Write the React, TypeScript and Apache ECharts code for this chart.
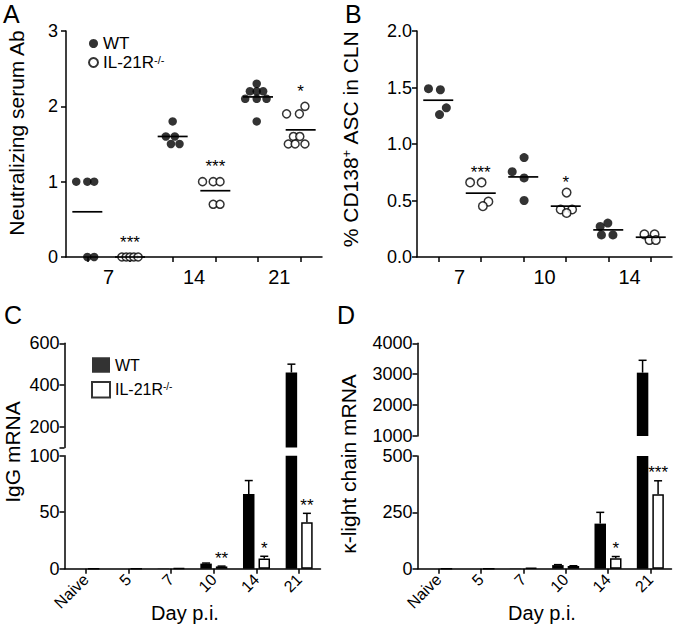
import React, { useEffect, useRef } from 'react';
import * as echarts from 'echarts';

const FONT = '"Liberation Sans", Arial, Helvetica, sans-serif';

// ---------- Panel A: neutralizing serum Ab ----------
const daysA = ['7', '14', '21'];
const wtA = [[1, 1, 1, 0, 0], [1.8, 1.6, 1.6, 1.5, 1.5], [2.3, 2.2, 2.2, 2.2, 2.1, 2.1, 2.1, 1.8]];
const koA = [[0, 0, 0, 0, 0], [1, 1, 1, 0.7, 0.7], [2.0, 1.9, 1.9, 1.6, 1.6, 1.5, 1.5, 1.5]];
const jitterWtA = [[-0.26, 0, 0.16, 0, 0.16], [0, -0.16, 0.05, -0.04, 0.16], [-0.03, -0.19, -0.03, 0.12, -0.3, -0.03, 0.2, -0.03]];
const jitterKoA = [[-0.19, -0.09, 0, 0.09, 0.19], [-0.3, -0.05, 0.11, -0.05, 0.11], [0.1, -0.33, -0.03, -0.17, -0.02, -0.29, -0.13, 0.1]];
const starsA = ['***', '***', '*'];

// ---------- Panel B: % CD138+ ASC in CLN ----------
const daysB = ['7', '10', '14'];
const wtB = [[1.49, 1.48, 1.32, 1.26], [0.88, 0.755, 0.7, 0.5], [0.3, 0.27, 0.195, 0.195]];
const koB = [[0.66, 0.66, 0.49, 0.45], [0.57, 0.42, 0.42, 0.39], [0.2, 0.2, 0.15, 0.15]];
const jitterWtB = [[-0.23, 0.05, 0.19, 0.03], [0.02, -0.26, 0.02, 0.02], [-0.01, -0.19, -0.16, 0.11]];
const jitterKoB = [[-0.25, 0.02, 0.18, 0.05], [0.02, -0.12, 0.15, 0.02], [-0.15, 0.09, -0.03, 0.12]];
const starsB = ['***', '*', ''];

// ---------- Panels C & D: mRNA bars ----------
const daysCD = ['Naive', '5', '7', '10', '14', '21'];
const wtC = [0, 0, 0.2, 4.5, 66, 460];
const wtCErr = [0, 0, 0, 0.5, 12, 40];
const koC = [0, 0, 0.5, 2, 9, 41];
const koCErr = [0, 0, 0, 0.3, 2, 8];
const starsC = ['', '', '', '**', '*', '**'];

const wtD = [0, 0, 1, 16, 200, 3050];
const wtDErr = [0, 0, 0, 2, 50, 400];
const koD = [0, 0, 3, 12, 46, 330];
const koDErr = [0, 0, 0, 1, 8, 60];
const starsD = ['', '', '', '', '*', '***'];

const WT = 'WT';
const KO = 'IL-21R-/-';

const BAR_W = 11.5;
const BAR_OFF = 7.75;

const mean = (a: number[]) => a.reduce((s, v) => s + v, 0) / a.length;

const scatterData = (groups: number[][], jit: number[][], slot: number) =>
  groups.flatMap((g, d) => g.map((v, k) => [2 * d + slot + 0.5 + jit[d][k], v]));
const meanData = (wt: number[][], ko: number[][]) =>
  wt.flatMap((g, d) => [[2 * d + 0.5, mean(g)], [2 * d + 1.5, mean(ko[d])]]);
const starData = (ko: number[][]) => ko.map((g, d) => [2 * d + 1.5, Math.max(...g), d]);

// style for custom-series text (zrender 5 props only)
const customText = (text: string, size: number) => ({
  text,
  fill: '#000',
  fontSize: size,
  fontFamily: FONT,
  align: 'center',
  verticalAlign: 'middle',
});

// style for graphic-component text
const graphicText = (text: string, size: number, extra: any = {}) => ({
  text,
  fill: '#000',
  fontSize: size,
  fontFamily: FONT,
  textAlign: 'center',
  textVerticalAlign: 'middle',
  ...extra,
});

const meanRender = (params: any, api: any) => {
  const p = api.coord([api.value(0), api.value(1)]);
  return {
    type: 'line',
    shape: { x1: p[0] - 15, y1: p[1], x2: p[0] + 15, y2: p[1] },
    style: { stroke: '#000', lineWidth: 1.7 },
  };
};

const scatterStarRender = (stars: string[], dy: number) => (params: any, api: any) => {
  const t = stars[api.value(2)];
  if (!t) return null;
  const p = api.coord([api.value(0), api.value(1)]);
  return { type: 'text', x: p[0], y: p[1] - dy, style: customText(t, 17) };
};

const errRender = (side: number, lo: number, hi: number) => (params: any, api: any) => {
  const i = api.value(0);
  const v = api.value(1);
  const e = api.value(2);
  if (!(e > 0) || v <= lo || v > hi) return null;
  const p0 = api.coord([i, v]);
  const p1 = api.coord([i, v + e]);
  const x = p0[0] + side * BAR_OFF;
  const st = { stroke: '#000', lineWidth: 1.5 };
  return {
    type: 'group',
    children: [
      { type: 'line', shape: { x1: x, y1: p0[1], x2: x, y2: p1[1] }, style: st },
      { type: 'line', shape: { x1: x - 4, y1: p1[1], x2: x + 4, y2: p1[1] }, style: st },
    ],
  };
};

const barStarRender = (stars: string[]) => (params: any, api: any) => {
  const i = api.value(0);
  const t = stars[i];
  if (!t) return null;
  const p = api.coord([i, api.value(1)]);
  return { type: 'text', x: p[0] + BAR_OFF, y: p[1] - 8, style: customText(t, 17) };
};

const axisLineStyle = { color: '#000', width: 1.5 };
const labelBase = { color: '#000', fontFamily: FONT };

const scatterXAxis = (gridIndex: number, days: string[]) => ({
  type: 'value',
  gridIndex,
  min: 0,
  max: 6,
  splitLine: { show: false },
  axisLine: { show: true, lineStyle: axisLineStyle },
  axisTick: { show: true, length: 5, lineStyle: axisLineStyle, customValues: [0.5, 1.5, 2.5, 3.5, 4.5, 5.5] },
  axisLabel: {
    ...labelBase,
    fontSize: 20,
    margin: 10,
    customValues: [1, 3, 5],
    formatter: (v: number) => days[Math.round((v - 1) / 2)],
  },
});

const barXAxis = (gridIndex: number, show: boolean) => ({
  type: 'category',
  gridIndex,
  data: daysCD,
  show,
  axisLine: { show, lineStyle: axisLineStyle },
  axisTick: { show, alignWithLabel: true, length: 5, lineStyle: axisLineStyle },
  axisLabel: { show, ...labelBase, fontSize: 16, rotate: 45, margin: 8, interval: 0 },
  splitLine: { show: false },
});

const yAxisBase = (gridIndex: number, extra: any, margin = 5) => ({
  type: 'value',
  gridIndex,
  splitLine: { show: false },
  axisLine: { show: true, lineStyle: axisLineStyle },
  axisTick: { show: true, length: 5, lineStyle: axisLineStyle, ...(extra.tick || {}) },
  axisLabel: { ...labelBase, fontSize: 18, margin, formatter: (v: number) => String(v), ...(extra.label || {}) },
  min: extra.min,
  max: extra.max,
  interval: extra.interval,
});

const richSup = (size: number) => ({
  n: { fontSize: size, fontFamily: FONT, color: '#000' },
  s: { fontSize: Math.round(size * 0.62), fontFamily: FONT, color: '#000', verticalAlign: 'top' },
});

const legendFormatter = (name: string) => (name === KO ? '{n|IL-21R}{s|-/-}' : '{n|' + name + '}');

export default function App() {
  const ref = useRef<HTMLDivElement>(null);

  useEffect(() => {
    if (!ref.current) return;
    const chart = echarts.init(ref.current, null, { renderer: 'svg' });

    const wtStyle = { color: '#000' };
    const koStyle = { color: '#fff', borderColor: '#000', borderWidth: 1.5 };
    const blk = { color: '#000' };

    const series: any[] = [];

    // Panel A
    series.push(
      { type: 'scatter', name: WT, xAxisIndex: 0, yAxisIndex: 0, symbolSize: 8.5, itemStyle: wtStyle, data: scatterData(wtA, jitterWtA, 0) },
      { type: 'scatter', name: KO, xAxisIndex: 0, yAxisIndex: 0, symbolSize: 8, itemStyle: koStyle, data: scatterData(koA, jitterKoA, 1) },
      { type: 'custom', xAxisIndex: 0, yAxisIndex: 0, itemStyle: blk, renderItem: meanRender, encode: { x: 0, y: 1 }, data: meanData(wtA, koA), z: 5 },
      { type: 'custom', xAxisIndex: 0, yAxisIndex: 0, itemStyle: blk, renderItem: scatterStarRender(starsA, 15), encode: { x: 0, y: 1 }, data: starData(koA) },
    );
    // Panel B
    series.push(
      { type: 'scatter', name: WT, xAxisIndex: 1, yAxisIndex: 1, symbolSize: 9, itemStyle: wtStyle, data: scatterData(wtB, jitterWtB, 0) },
      { type: 'scatter', name: KO, xAxisIndex: 1, yAxisIndex: 1, symbolSize: 8.5, itemStyle: koStyle, data: scatterData(koB, jitterKoB, 1) },
      { type: 'custom', xAxisIndex: 1, yAxisIndex: 1, itemStyle: blk, renderItem: meanRender, encode: { x: 0, y: 1 }, data: meanData(wtB, koB), z: 5 },
      { type: 'custom', xAxisIndex: 1, yAxisIndex: 1, itemStyle: blk, renderItem: scatterStarRender(starsB, 10), encode: { x: 0, y: 1 }, data: starData(koB) },
    );

    const barPanel = (
      wt: number[], wtErr: number[], ko: number[], koErr: number[], stars: string[],
      upX: number, loX: number, upMin: number, loMax: number,
    ) => {
      const barCommon = { type: 'bar', barWidth: BAR_W, barGap: '35%', clip: true };
      const upFilter = (a: number[]) => a.map((v) => (v > upMin ? v : '-'));
      series.push(
        { ...barCommon, name: WT, xAxisIndex: upX, yAxisIndex: upX, itemStyle: wtStyle, data: upFilter(wt) },
        { ...barCommon, name: KO, xAxisIndex: upX, yAxisIndex: upX, itemStyle: koStyle, data: upFilter(ko) },
        { ...barCommon, name: WT, xAxisIndex: loX, yAxisIndex: loX, itemStyle: wtStyle, data: wt },
        { ...barCommon, name: KO, xAxisIndex: loX, yAxisIndex: loX, itemStyle: koStyle, data: ko },
        { type: 'custom', xAxisIndex: upX, yAxisIndex: upX, itemStyle: blk, encode: { x: 0, y: 1 }, renderItem: errRender(-1, upMin, Infinity), data: wt.map((v, i) => [i, v, wtErr[i]]), z: 3 },
        { type: 'custom', xAxisIndex: upX, yAxisIndex: upX, itemStyle: blk, encode: { x: 0, y: 1 }, renderItem: errRender(1, upMin, Infinity), data: ko.map((v, i) => [i, v, koErr[i]]), z: 3 },
        { type: 'custom', xAxisIndex: loX, yAxisIndex: loX, itemStyle: blk, encode: { x: 0, y: 1 }, renderItem: errRender(-1, -Infinity, loMax), data: wt.map((v, i) => [i, v, wtErr[i]]), z: 3 },
        { type: 'custom', xAxisIndex: loX, yAxisIndex: loX, itemStyle: blk, encode: { x: 0, y: 1 }, renderItem: errRender(1, -Infinity, loMax), data: ko.map((v, i) => [i, v, koErr[i]]), z: 3 },
        { type: 'custom', xAxisIndex: loX, yAxisIndex: loX, itemStyle: blk, encode: { x: 0, y: 1 }, renderItem: barStarRender(stars), data: ko.map((v, i) => [i, v + koErr[i]]), z: 4 },
      );
    };
    barPanel(wtC, wtCErr, koC, koCErr, starsC, 2, 3, 100, 100);
    barPanel(wtD, wtDErr, koD, koDErr, starsD, 4, 5, 1000, 500);

    const titleText = (x: number, y: number, text: string) => ({
      type: 'text',
      x,
      y,
      rotation: Math.PI / 2,
      style: { ...graphicText(text, 21), rich: richSup(21) },
    });
    const letter = (x: number, y: number, t: string) => ({
      type: 'text',
      x,
      y,
      style: { text: t, fill: '#000', fontSize: 25, fontFamily: FONT, textAlign: 'left', textVerticalAlign: 'top' },
    });

    const option: any = {
      animation: false,
      backgroundColor: '#fff',
      grid: [
        { left: 66, top: 31, width: 256, height: 226 },
        { left: 417, top: 31, width: 255, height: 226 },
        { left: 64.5, top: 343.3, width: 256, height: 104.3 },
        { left: 64.5, top: 455.7, width: 256, height: 113 },
        { left: 417.5, top: 343.3, width: 254, height: 92.7 },
        { left: 417.5, top: 456, width: 254, height: 112.7 },
      ],
      xAxis: [
        scatterXAxis(0, daysA),
        scatterXAxis(1, daysB),
        barXAxis(2, false),
        barXAxis(3, true),
        barXAxis(4, false),
        barXAxis(5, true),
      ],
      yAxis: [
        yAxisBase(0, { min: 0, max: 3, interval: 1 }, 8),
        yAxisBase(1, { min: 0, max: 2, interval: 0.5, label: { formatter: (v: number) => v.toFixed(1) } }),
        yAxisBase(2, { min: 100, max: 600, tick: { customValues: [100, 200, 400, 600] }, label: { customValues: [200, 400, 600] } }),
        yAxisBase(3, { min: 0, max: 100, interval: 50 }),
        yAxisBase(4, { min: 1000, max: 4000, interval: 1000 }),
        yAxisBase(5, { min: 0, max: 500, interval: 250 }),
      ],
      legend: [
        {
          left: 88, top: 35, orient: 'vertical', padding: 0, itemGap: 2, itemWidth: 9, itemHeight: 9,
          data: [{ name: WT, icon: 'circle' }, { name: KO, icon: 'circle' }],
          formatter: legendFormatter, textStyle: { rich: richSup(17) }, selectedMode: false,
        },
        {
          left: 91, top: 357, orient: 'vertical', padding: 0, itemGap: 8, itemWidth: 18, itemHeight: 15.5,
          data: [{ name: WT, icon: 'rect' }, { name: KO, icon: 'rect' }],
          formatter: legendFormatter, textStyle: { rich: richSup(16) }, selectedMode: false,
        },
      ],
      graphic: [
        letter(3, 1, 'A'),
        letter(345, 1, 'B'),
        letter(4, 302, 'C'),
        letter(337, 302, 'D'),
        titleText(16, 133, '{n|Neutralizing serum Ab}'),
        titleText(350, 139, '{n|% CD138}{s|+}{n| ASC in CLN}'),
        titleText(12, 452, '{n|IgG mRNA}'),
        titleText(348, 464, '{n|κ-light chain mRNA}'),
        { type: 'text', x: 185, y: 613, style: graphicText('Day p.i.', 20) },
        { type: 'text', x: 542, y: 613, style: graphicText('Day p.i.', 20) },
      ],
      series,
    };

    chart.setOption(option);
    return () => chart.dispose();
  }, []);

  return (
    <div
      ref={ref}
      style={{ position: 'fixed', left: 0, top: 0, width: 675, height: 628, background: '#fff' }}
    />
  );
}
